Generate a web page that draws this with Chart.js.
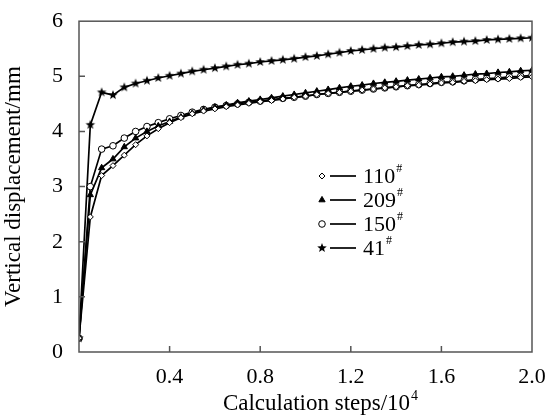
<!DOCTYPE html>
<html>
<head>
<meta charset="utf-8">
<script src="https://cdn.jsdelivr.net/npm/chart.js@4.4.1/dist/chart.umd.min.js"></script>
<style>
  html, body { margin: 0; padding: 0; background: #fff; }
  #wrap { width: 552px; height: 416px; }
</style>
</head>
<body>
<div id="wrap"><canvas id="chart" width="552" height="416"></canvas></div>
<script>
// calculation steps (x 10^4)
var steps = [0, 0.05, 0.10, 0.15, 0.20, 0.25, 0.30, 0.35, 0.40, 0.45, 0.50,
  0.55, 0.60, 0.65, 0.70, 0.75, 0.80, 0.85, 0.90, 0.95, 1.00,
  1.05, 1.10, 1.15, 1.20, 1.25, 1.30, 1.35, 1.40, 1.45, 1.50,
  1.55, 1.60, 1.65, 1.70, 1.75, 1.80, 1.85, 1.90, 1.95, 2.00];

// vertical displacement (mm)
var disp110 = [0.25, 2.45, 3.20, 3.38, 3.57, 3.76, 3.92, 4.05, 4.16, 4.25, 4.32,
  4.37, 4.41, 4.45, 4.48, 4.51, 4.54, 4.56, 4.59, 4.62, 4.64,
  4.67, 4.69, 4.71, 4.73, 4.75, 4.77, 4.79, 4.81, 4.83, 4.84,
  4.86, 4.88, 4.89, 4.91, 4.92, 4.94, 4.95, 4.96, 4.98, 4.99];
var disp209 = [0.25, 2.85, 3.34, 3.50, 3.72, 3.88, 4.00, 4.10, 4.18, 4.26, 4.33,
  4.39, 4.44, 4.48, 4.52, 4.55, 4.58, 4.61, 4.64, 4.67, 4.70,
  4.73, 4.76, 4.79, 4.82, 4.84, 4.87, 4.89, 4.91, 4.93, 4.95,
  4.97, 4.99, 5.00, 5.02, 5.04, 5.05, 5.07, 5.08, 5.10, 5.11];
var disp150 = [0.25, 3.00, 3.68, 3.74, 3.88, 4.00, 4.09, 4.16, 4.23, 4.29, 4.35,
  4.40, 4.44, 4.47, 4.50, 4.53, 4.55, 4.58, 4.60, 4.62, 4.64,
  4.67, 4.69, 4.71, 4.73, 4.75, 4.77, 4.79, 4.81, 4.83, 4.85,
  4.87, 4.89, 4.90, 4.92, 4.94, 4.96, 4.97, 4.99, 5.00, 5.02];
var disp41 = [0.25, 4.12, 4.71, 4.66, 4.80, 4.87, 4.92, 4.97, 5.01, 5.05, 5.09,
  5.12, 5.15, 5.18, 5.21, 5.23, 5.26, 5.28, 5.30, 5.32, 5.35,
  5.37, 5.40, 5.43, 5.46, 5.48, 5.50, 5.52, 5.53, 5.55, 5.57,
  5.58, 5.60, 5.62, 5.63, 5.64, 5.66, 5.67, 5.68, 5.69, 5.70];

var seriesNames = ["110", "209", "150", "41"];

// filled star marker
function makeStar(r) {
	var c = document.createElement("canvas");
	c.width = c.height = r * 2 + 2;
	var g = c.getContext("2d");
	g.beginPath();
	for (var i = 0; i < 10; i++) {
		var rr = (i % 2 == 0) ? r : r * 0.42;
		var a = -Math.PI / 2 + i * Math.PI / 5;
		var px = r + 1 + rr * Math.cos(a), py = r + 1 + rr * Math.sin(a);
		if (i == 0) g.moveTo(px, py); else g.lineTo(px, py);
	}
	g.closePath();
	g.fillStyle = "#000";
	g.fill();
	return c;
}
var starImg = makeStar(5);

function toPoints(arr) {
	return arr.map(function(v, i) { return {x: steps[i], y: v}; });
}

var markers = [
	{pointStyle: "rectRot", radius: 3, fill: "#fff"},
	{pointStyle: "triangle", radius: 3.6, fill: "#000"},
	{pointStyle: "circle", radius: 3.3, fill: "#fff"},
	{pointStyle: starImg, radius: 5, fill: "#000"}
];

function makeDataset(arr, k) {
	return {
		label: seriesNames[k],
		data: toPoints(arr),
		borderColor: "#000",
		borderWidth: 1.7,
		pointStyle: markers[k].pointStyle,
		pointRadius: markers[k].radius,
		pointBackgroundColor: markers[k].fill,
		pointBorderColor: "#000",
		pointBorderWidth: 1,
		fill: false,
		tension: 0
	};
}

var FONT = "'Liberation Serif', 'DejaVu Serif', serif";

// box + inward ticks
var framePlugin = {
	id: "frame",
	afterDraw: function(chart) {
		var ctx = chart.ctx, a = chart.chartArea;
		var xs = chart.scales.x, ys = chart.scales.y;
		ctx.save();
		ctx.strokeStyle = "#555";
		ctx.lineWidth = 1.5;
		ctx.strokeRect(a.left, a.top, a.right - a.left, a.bottom - a.top);
		ctx.beginPath();
		xs.ticks.forEach(function(t) {
			var px = xs.getPixelForValue(t.value);
			if (t.value > 0 && t.value < 2) { ctx.moveTo(px, a.bottom); ctx.lineTo(px, a.bottom - 6); }
		});
		ys.ticks.forEach(function(t) {
			var py = ys.getPixelForValue(t.value);
			if (t.value > 0 && t.value < 6) { ctx.moveTo(a.left, py); ctx.lineTo(a.left + 6, py); }
		});
		ctx.stroke();
		ctx.restore();
	}
};

// legend: marker — line  name#
var legendPlugin = {
	id: "lineLegend",
	afterDraw: function(chart) {
		var ctx = chart.ctx;
		ctx.save();
		chart.data.datasets.forEach(function(ds, k) {
			var y = 176 + k * 24;
			ctx.strokeStyle = "#000";
			ctx.lineWidth = 1.7;
			ctx.beginPath(); ctx.moveTo(330, y); ctx.lineTo(356, y); ctx.stroke();
			ctx.fillStyle = ds.pointBackgroundColor;
			ctx.lineWidth = 1;
			Chart.helpers.drawPoint(ctx, {pointStyle: ds.pointStyle, radius: ds.pointRadius, rotation: 0, borderWidth: 1}, 322, y);
			ctx.fillStyle = "#000";
			ctx.textBaseline = "middle";
			ctx.font = "22px " + FONT;
			ctx.fillText(ds.label, 363, y + 1);
			var w = ctx.measureText(ds.label).width;
			ctx.font = "12px " + FONT;
			ctx.fillText("#", 363 + w + 1, y - 7);
		});
		ctx.restore();
	}
};

// x title with superscript
var titlePlugin = {
	id: "xTitle",
	afterDraw: function(chart) {
		var ctx = chart.ctx;
		ctx.save();
		ctx.fillStyle = "#000";
		ctx.font = "23px " + FONT;
		var main = "Calculation steps/10";
		var w = ctx.measureText(main).width;
		ctx.font = "14px " + FONT;
		var ws = ctx.measureText("4").width;
		var x0 = 320 - (w + ws) / 2;
		ctx.textBaseline = "alphabetic";
		ctx.font = "23px " + FONT;
		ctx.fillText(main, x0, 410);
		ctx.font = "14px " + FONT;
		ctx.fillText("4", x0 + w + 1, 400);
		ctx.restore();
	}
};

var ctx = document.getElementById("chart");
var myChart = new Chart(ctx, {
	type: "line",
	data: {
		datasets: [
			makeDataset(disp110, 0),
			makeDataset(disp209, 1),
			makeDataset(disp150, 2),
			makeDataset(disp41, 3)
		]
	},
	options: {
		responsive: false,
		animation: false,
		layout: {padding: {top: 16, right: 20, left: 0, bottom: 0}},
		plugins: {legend: {display: false}, tooltip: {enabled: false}},
		scales: {
			x: {
				type: "linear", min: 0, max: 2,
				border: {display: false},
				grid: {display: false},
				ticks: {
					stepSize: 0.4, color: "#000", padding: 4,
					font: {family: FONT, size: 22},
					callback: function(v) { return v == 0 ? "" : v.toFixed(1); }
				},
				afterFit: function(s) { s.height = 64; }
			},
			y: {
				min: 0, max: 6,
				border: {display: false},
				grid: {display: false},
				ticks: {stepSize: 1, color: "#000", padding: 8, font: {family: FONT, size: 22}},
				title: {display: true, text: "Vertical displacement/mm", color: "#000",
					font: {family: FONT, size: 23}, padding: {top: 0, bottom: 6}},
				afterFit: function(s) { s.width = 79; }
			}
		}
	},
	plugins: [framePlugin, legendPlugin, titlePlugin]
});
</script>
</body>
</html>
